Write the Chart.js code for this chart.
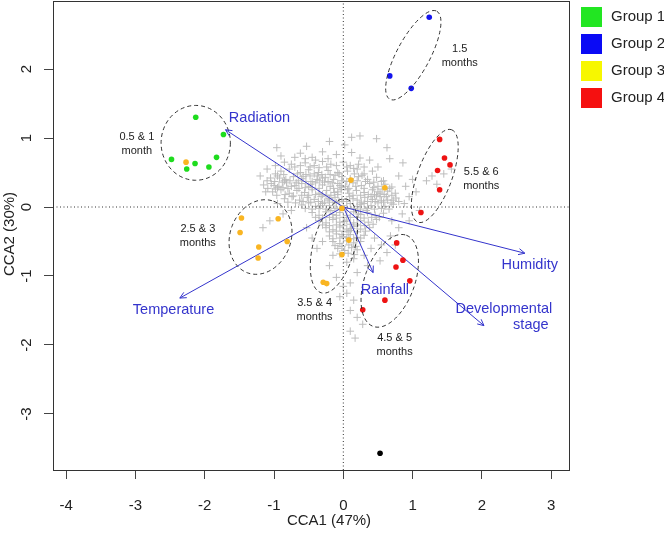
<!DOCTYPE html>
<html>
<head>
<meta charset="utf-8">
<script src="https://cdn.jsdelivr.net/npm/chart.js@4.4.1/dist/chart.umd.min.js"></script>
<style>
  html, body { margin: 0; padding: 0; background: #fff; }
  canvas { display: block; }
</style>
</head>
<body>
<canvas id="cca" width="664" height="533"></canvas>
<script>
// axis ranges and ticks
const X_MIN = -4.19, X_MAX = 3.257;
const Y_MIN = -3.812, Y_MAX = 2.986;
const X_TICKS = [-4, -3, -2, -1, 0, 1, 2, 3];
const Y_TICKS = [-3, -2, -1, 0, 1, 2];

// groups (CCA1, CCA2)
const GROUP_NAMES = ["Group 1", "Group 2", "Group 3", "Group 4"];
const group1 = [[-2.13, 1.30], [-1.73, 1.05], [-1.83, 0.72], [-2.48, 0.69], [-2.14, 0.63], [-2.26, 0.55], [-1.94, 0.58]];
const group2 = [[1.24, 2.75], [0.67, 1.90], [0.98, 1.72]];
const group3 = [[-2.27, 0.65], [-1.47, -0.16], [-1.49, -0.37], [-0.94, -0.17], [-1.22, -0.58], [-1.23, -0.74],
  [-0.81, -0.50], [-0.02, -0.02], [0.08, -0.48], [-0.02, -0.69], [-0.29, -1.09], [-0.24, -1.11], [0.11, 0.39], [0.60, 0.28]];
const group4 = [[1.39, 0.98], [1.46, 0.71], [1.54, 0.61], [1.36, 0.53], [1.39, 0.25], [1.12, -0.08],
  [0.77, -0.52], [0.86, -0.77], [0.76, -0.87], [0.96, -1.07], [0.60, -1.35], [0.28, -1.49]];
const outlier = [[0.53, -3.57]];

// grey "+" cloud
const sites = [
  [0.24, 1.03], [0.12, 1.01], [0.12, 0.79], [-0.53, 0.88], [-0.96, 0.86], [0.48, 0.99], [0.67, 0.70], [0.86, 0.64],
  [0.24, 0.71], [0.63, 0.86], [-0.30, 0.80], [-0.70, 0.72], [-0.85, 0.65], [-0.10, 0.76], [0.38, 0.68], [0.50, 0.58],
  [-0.62, 0.78], [0.02, 0.90], [-0.20, 0.95], [-0.45, 0.72],
  [-0.75, 0.62], [-0.62, 0.60], [-0.48, 0.58], [-0.35, 0.57], [-0.24, 0.58], [-0.10, 0.60], [0.05, 0.58], [0.15, 0.56],
  [-0.40, 0.68], [-0.55, 0.70], [-0.22, 0.70], [0.30, 0.58],
  [-0.55, 0.64], [-0.42, 0.60], [-0.30, 0.66], [-0.18, 0.62], [0.10, 0.60], [-0.70, 0.58], [0.00, 0.65], [0.22, 0.62],
  [-0.90, 0.52], [-0.78, 0.55], [-0.62, 0.50], [-0.50, 0.54], [-0.36, 0.50], [-0.22, 0.53], [-0.08, 0.50], [0.06, 0.52],
  [0.20, 0.55], [0.30, 0.48], [0.42, 0.52],
  [-0.98, 0.48], [-0.86, 0.47], [-0.66, 0.48], [-0.54, 0.47], [-0.42, 0.48], [-0.31, 0.47], [-0.19, 0.47], [-0.06, 0.48],
  [0.16, 0.48], [0.27, 0.46],
  [-1.05, 0.42], [-0.95, 0.45], [-0.83, 0.40], [-0.72, 0.44], [-0.60, 0.41], [-0.48, 0.45], [-0.38, 0.40], [-0.26, 0.43],
  [-0.14, 0.40], [-0.02, 0.44], [0.10, 0.41], [0.22, 0.44], [0.35, 0.40], [0.48, 0.43], [0.58, 0.38],
  [-1.10, 0.38], [-0.99, 0.37], [-0.88, 0.36], [-0.77, 0.38], [-0.54, 0.37], [-0.34, 0.38], [-0.22, 0.37], [-0.02, 0.38],
  [0.09, 0.37], [0.20, 0.38], [0.32, 0.37], [0.44, 0.36], [0.55, 0.37],
  [-1.15, 0.32], [-1.04, 0.34], [-0.93, 0.30], [-0.82, 0.35], [-0.70, 0.31], [-0.60, 0.34], [-0.50, 0.30], [-0.40, 0.35],
  [-0.30, 0.32], [-0.19, 0.30], [-0.08, 0.34], [0.03, 0.30], [0.14, 0.35], [0.26, 0.31], [0.38, 0.34], [0.50, 0.30],
  [0.60, 0.33], [0.70, 0.29],
  [-1.09, 0.27], [-0.98, 0.26], [-0.87, 0.28], [-0.64, 0.27], [-0.45, 0.28], [-0.14, 0.27], [-0.03, 0.28], [0.08, 0.27],
  [0.30, 0.27], [0.44, 0.28], [0.56, 0.26], [0.67, 0.27],
  [-1.02, 0.22], [-0.90, 0.25], [-0.78, 0.20], [-0.67, 0.24], [-0.56, 0.21], [-0.45, 0.25], [-0.35, 0.20], [-0.24, 0.24],
  [-0.13, 0.21], [-0.03, 0.25], [0.08, 0.20], [0.19, 0.24], [0.30, 0.21], [0.42, 0.25], [0.53, 0.20], [0.64, 0.23], [0.75, 0.20],
  [-0.96, 0.17], [-0.84, 0.18], [-0.72, 0.16], [-0.50, 0.17], [-0.30, 0.18], [-0.18, 0.17], [-0.08, 0.18], [0.14, 0.17],
  [0.36, 0.18], [0.48, 0.16], [0.59, 0.18], [0.70, 0.17],
  [-0.85, 0.12], [-0.74, 0.15], [-0.63, 0.10], [-0.52, 0.14], [-0.42, 0.11], [-0.32, 0.15], [-0.22, 0.10], [-0.12, 0.14],
  [-0.02, 0.11], [0.09, 0.15], [0.20, 0.10], [0.31, 0.14], [0.42, 0.11], [0.53, 0.15], [0.64, 0.10], [0.76, 0.13],
  [-0.80, 0.07], [-0.69, 0.06], [-0.58, 0.08], [-0.47, 0.07], [-0.36, 0.08], [-0.27, 0.07], [-0.06, 0.08], [0.26, 0.07],
  [0.46, 0.08], [0.58, 0.07], [0.69, 0.06], [0.80, 0.08],
  [-0.60, 0.03], [-0.50, 0.06], [-0.40, 0.01], [-0.30, 0.05], [-0.20, 0.02], [-0.10, 0.06], [0.00, 0.02], [0.10, 0.05],
  [0.20, 0.01], [0.30, 0.05], [0.40, 0.02], [0.50, 0.06], [0.60, 0.01], [0.72, 0.04],
  [-0.55, -0.02], [-0.45, -0.03], [-0.35, -0.02], [-0.25, -0.03], [-0.12, -0.02], [0.05, -0.02], [0.25, -0.03], [0.35, -0.02],
  [0.45, -0.03], [0.55, -0.02], [0.66, -0.03],
  [-0.45, -0.08], [-0.35, -0.12], [-0.25, -0.07], [-0.15, -0.11], [-0.05, -0.08], [0.05, -0.12], [0.15, -0.07], [0.25, -0.11],
  [0.35, -0.08], [0.46, -0.12], [0.58, -0.09],
  [-0.40, -0.15], [-0.30, -0.16], [-0.20, -0.15], [-0.10, -0.16], [0.10, -0.15], [0.30, -0.16], [0.41, -0.15], [0.52, -0.15],
  [-0.35, -0.20], [-0.25, -0.23], [-0.15, -0.18], [-0.05, -0.22], [0.05, -0.19], [0.15, -0.23], [0.25, -0.20], [0.36, -0.22], [0.48, -0.18],
  [-0.30, -0.26], [-0.20, -0.27], [-0.10, -0.26], [0.00, -0.27], [0.20, -0.26], [0.31, -0.27], [0.43, -0.25],
  [-0.25, -0.30], [-0.15, -0.33], [-0.05, -0.29], [0.05, -0.32], [0.15, -0.28], [0.25, -0.32], [0.38, -0.30],
  [-0.20, -0.36], [0.00, -0.35], [0.10, -0.34], [0.20, -0.36], [0.32, -0.35],
  [-0.20, -0.42], [-0.10, -0.39], [0.00, -0.43], [0.10, -0.40], [0.20, -0.44], [0.30, -0.41],
  [-0.15, -0.46], [-0.05, -0.45], [0.05, -0.44], [0.15, -0.46], [0.25, -0.45],
  [-0.15, -0.50], [-0.05, -0.53], [0.05, -0.49], [0.15, -0.52], [0.25, -0.50],
  [-0.12, -0.56], [-0.02, -0.57], [0.08, -0.55], [0.18, -0.57],
  [-0.08, -0.60], [0.02, -0.63], [0.12, -0.59], [0.20, -0.62],
  [-0.05, -0.68], [0.07, -0.67], [0.16, -0.69],
  [-0.35, 0.27], [-0.25, 0.17], [-0.15, 0.07], [-0.05, -0.03], [0.05, 0.08], [0.15, -0.02], [-0.45, 0.37], [-0.55, 0.28],
  [0.25, 0.17], [0.35, 0.08], [0.10, -0.25], [0.00, -0.15], [-0.10, -0.35], [0.07, -0.36], [-0.65, 0.38], [-0.75, 0.30],
  [-0.85, 0.38], [0.45, 0.18], [-0.95, 0.28], [-0.30, 0.42], [-0.12, 0.46], [0.05, 0.37], [0.18, 0.30], [-0.40, 0.18],
  [-0.60, 0.17], [0.55, 0.09], [-0.18, -0.05], [0.20, -0.15],
  [-1.12, 0.22], [-1.00, 0.31], [-0.92, 0.42], [-0.80, 0.27], [-0.68, 0.35], [-0.58, 0.44], [-0.47, 0.33], [-0.37, 0.45],
  [-0.27, 0.36], [-0.16, 0.35], [-0.05, 0.31], [0.06, 0.25], [0.14, 0.12], [0.24, 0.04], [0.33, -0.05], [0.40, 0.15],
  [-0.08, 0.22], [-0.20, 0.12], [-0.33, 0.02], [-0.10, -0.12], [0.02, -0.21], [0.12, -0.31], [-0.02, -0.40], [0.08, -0.46],
  [0.22, -0.10], [0.50, 0.22], [0.62, 0.15], [0.72, 0.10],
  [0.80, 0.45], [0.90, 0.30], [0.95, 0.15], [1.05, 0.22], [0.88, 0.05], [1.00, 0.40], [1.20, 0.38], [1.28, 0.45],
  [1.35, 0.33], [1.56, 0.55], [1.45, 0.48], [0.85, -0.10], [0.95, -0.20], [1.10, -0.05], [0.70, -0.20], [0.80, -0.30],
  [0.45, -0.45], [0.55, -0.55], [0.63, -0.66], [0.53, -0.78], [0.40, -0.60], [0.30, -0.70], [0.35, -0.85], [0.68, -0.42], [0.75, -0.55],
  [-0.15, -0.70], [-0.20, -0.85], [-0.10, -1.02], [0.05, -0.80], [0.15, -0.75], [0.20, -0.95], [0.10, -1.10], [0.05, -1.25],
  [0.15, -1.35], [0.10, -1.50], [0.20, -1.60], [0.10, -1.80], [0.17, -1.90], [0.28, -1.70], [0.00, -1.15], [-0.05, -1.30],
  [-1.06, -0.20], [-1.16, -0.30], [-0.87, -0.10], [-0.75, -0.05], [-0.53, -0.30], [-0.45, -0.45], [-0.38, -0.60], [-0.30, -0.50],
  [-0.95, 0.05], [-1.20, 0.45], [-1.10, 0.55], [-0.98, 0.60], [-0.90, 0.74]
];

// environmental vectors
const ARROW_NAMES = ["Radiation", "Temperature", "Rainfall", "Humidity", "Developmental stage"];
const ARROW_TIPS = [[-1.70, 1.12], [-2.36, -1.32], [0.43, -0.95], [2.62, -0.67], [2.03, -1.72]];
// where each vector name sits (centre of text)
const ARROW_LABEL_POS = [[-1.21, 1.29], [-2.45, -1.49], [0.60, -1.20], [2.69, -0.84], [2.49, -1.60]];

// dashed ellipses: centre, semi-axes, tilt (degrees) and the age text beside them
const ELLIPSES = [
  { c: [-2.13, 0.93], a: 0.50, b: 0.54, tilt: 0, text: ["0.5 & 1", "month"], at: [-2.98, 0.92] },
  { c: [1.01, 2.20], a: 0.72, b: 0.24, tilt: 62, text: ["1.5", "months"], at: [1.68, 2.19] },
  { c: [1.32, 0.45], a: 0.71, b: 0.25, tilt: 70, text: ["5.5 & 6", "months"], at: [1.99, 0.41] },
  { c: [-1.195, -0.435], a: 0.55, b: 0.44, tilt: 70, text: ["2.5 & 3", "months"], at: [-2.10, -0.42] },
  { c: [-0.135, -0.565], a: 0.70, b: 0.30, tilt: 75, text: ["3.5 & 4", "months"], at: [-0.415, -1.49] },
  { c: [0.67, -1.07], a: 0.70, b: 0.36, tilt: 70, text: ["4.5 & 5", "months"], at: [0.74, -2.0] }
];

const FONT = "'Liberation Sans', Arial, Helvetica, sans-serif";
const ARROW_BLUE = "#3434cc";
const LEGEND_COLORS = ["#22e622", "#0a0af5", "#f7f700", "#f51010"];

const pts = (arr) => arr.map(([x, y]) => ({ x, y }));

function groupSet(data, color, label) {
  return {
    label, data: pts(data), pointRadius: 2.8, pointHoverRadius: 2.8,
    backgroundColor: color, borderWidth: 0, order: 1
  };
}

const datasets = [
  groupSet(group1, "#1edc1e", GROUP_NAMES[0]),
  groupSet(group2, "#1414ee", GROUP_NAMES[1]),
  groupSet(group3, "#f9b522", GROUP_NAMES[2]),
  groupSet(group4, "#ee1313", GROUP_NAMES[3]),
  groupSet(outlier, "#000000", "other")
];

ARROW_TIPS.forEach((tip, i) => {
  datasets.push({
    label: ARROW_NAMES[i], data: pts([[0, 0], tip]), showLine: true,
    borderColor: ARROW_BLUE, borderWidth: 1, pointRadius: 0, order: 2
  });
});

// dotted zero lines
datasets.push({
  label: "h0", data: pts([[X_MIN, 0], [X_MAX, 0]]), showLine: true,
  borderColor: "#333", borderWidth: 1, borderDash: [1, 2.5], pointRadius: 0, order: 3
});
datasets.push({
  label: "v0", data: pts([[0, Y_MIN], [0, Y_MAX]]), showLine: true,
  borderColor: "#333", borderWidth: 1, borderDash: [1, 2.5], pointRadius: 0, order: 3
});

datasets.push({
  label: "sites", data: pts(sites), pointStyle: "cross", pointRadius: 3.8, pointHoverRadius: 3.8,
  borderColor: "#bdbdbd", borderWidth: 1, backgroundColor: "#bdbdbd", order: 4
});

const decorations = {
  id: "decorations",
  afterDatasetsDraw(chart) {
    const { ctx, scales: { x, y } } = chart;
    const unit = x.getPixelForValue(1) - x.getPixelForValue(0);

    // ellipses
    ctx.save();
    ctx.strokeStyle = "#333";
    ctx.lineWidth = 1;
    ctx.setLineDash([4, 3]);
    ELLIPSES.forEach((e) => {
      ctx.beginPath();
      ctx.ellipse(x.getPixelForValue(e.c[0]), y.getPixelForValue(e.c[1]),
        e.a * unit, e.b * unit, -e.tilt * Math.PI / 180, 0, Math.PI * 2);
      ctx.stroke();
    });
    ctx.restore();

    // arrow heads
    ctx.save();
    ctx.strokeStyle = ARROW_BLUE;
    ctx.lineWidth = 1;
    const ox = x.getPixelForValue(0), oy = y.getPixelForValue(0);
    ARROW_TIPS.forEach(([tx, ty]) => {
      const px = x.getPixelForValue(tx), py = y.getPixelForValue(ty);
      const ang = Math.atan2(py - oy, px - ox);
      const len = 7, spread = 0.45;
      ctx.beginPath();
      ctx.moveTo(px - len * Math.cos(ang - spread), py - len * Math.sin(ang - spread));
      ctx.lineTo(px, py);
      ctx.lineTo(px - len * Math.cos(ang + spread), py - len * Math.sin(ang + spread));
      ctx.stroke();
    });
    ctx.restore();
  },
  afterDraw(chart) {
    const { ctx, chartArea: a, scales: { x, y } } = chart;
    ctx.save();

    // frame
    ctx.strokeStyle = "#333";
    ctx.lineWidth = 1;
    ctx.strokeRect(Math.round(a.left) + 0.5, Math.round(a.top) + 0.5,
      Math.round(a.right - a.left), Math.round(a.bottom - a.top));

    ctx.textAlign = "center";
    ctx.textBaseline = "middle";

    // age labels
    ctx.fillStyle = "#222";
    ctx.font = "11px " + FONT;
    ELLIPSES.forEach((e) => {
      const cx = x.getPixelForValue(e.at[0]), cy = y.getPixelForValue(e.at[1]);
      ctx.fillText(e.text[0], cx, cy - 7);
      ctx.fillText(e.text[1], cx, cy + 7);
    });

    // vector names
    ctx.fillStyle = ARROW_BLUE;
    ctx.font = "14.5px " + FONT;
    ARROW_NAMES.forEach((name, i) => {
      const cx = x.getPixelForValue(ARROW_LABEL_POS[i][0]), cy = y.getPixelForValue(ARROW_LABEL_POS[i][1]);
      const parts = name.split(" ");
      if (parts.length === 1) {
        ctx.fillText(name, cx, cy);
      } else {
        ctx.fillText(parts[0], cx - 12, cy - 8);
        ctx.fillText(parts[1], cx + 15, cy + 8);
      }
    });

    // axis titles
    ctx.fillStyle = "#222";
    ctx.font = "15px " + FONT;
    ctx.fillText("CCA1 (47%)", 329, 521);
    ctx.save();
    ctx.translate(10, 234);
    ctx.rotate(-Math.PI / 2);
    ctx.fillText("CCA2 (30%)", 0, 0);
    ctx.restore();

    // legend
    ctx.textAlign = "left";
    GROUP_NAMES.forEach((name, i) => {
      const top = 7 + i * 27;
      ctx.fillStyle = LEGEND_COLORS[i];
      ctx.fillRect(581, top, 21, 20);
      ctx.fillStyle = "#222";
      ctx.fillText(name, 611, top + 10);
    });
    ctx.restore();
  }
};

new Chart(document.getElementById("cca"), {
  type: "scatter",
  data: { datasets },
  options: {
    responsive: false,
    animation: false,
    devicePixelRatio: 1,
    layout: { autoPadding: false, padding: { left: 0, top: 1, right: 95, bottom: 0 } },
    plugins: { legend: { display: false }, tooltip: { enabled: false } },
    events: [],
    scales: {
      x: {
        type: "linear", min: X_MIN, max: X_MAX,
        afterBuildTicks: (s) => { s.ticks = X_TICKS.map((v) => ({ value: v })); },
        afterFit: (s) => { s.height = 63; s.paddingLeft = 0; s.paddingRight = 0; },
        grid: { drawOnChartArea: false, drawTicks: true, tickLength: 9, color: "#444" },
        border: { display: false },
        ticks: { font: { family: FONT, size: 15 }, color: "#222", padding: 18, maxRotation: 0, autoSkip: false }
      },
      y: {
        type: "linear", min: Y_MIN, max: Y_MAX,
        afterBuildTicks: (s) => { s.ticks = Y_TICKS.map((v) => ({ value: v })); },
        afterFit: (s) => { s.width = 53; s.paddingTop = 0; s.paddingBottom = 0; },
        grid: { drawOnChartArea: false, drawTicks: true, tickLength: 9, color: "#444" },
        border: { display: false },
        ticks: { font: { family: FONT, size: 15 }, color: "#222", padding: 10, minRotation: 90, maxRotation: 90,
          crossAlign: "center", autoSkip: false }
      }
    }
  },
  plugins: [decorations]
});
</script>
</body>
</html>
